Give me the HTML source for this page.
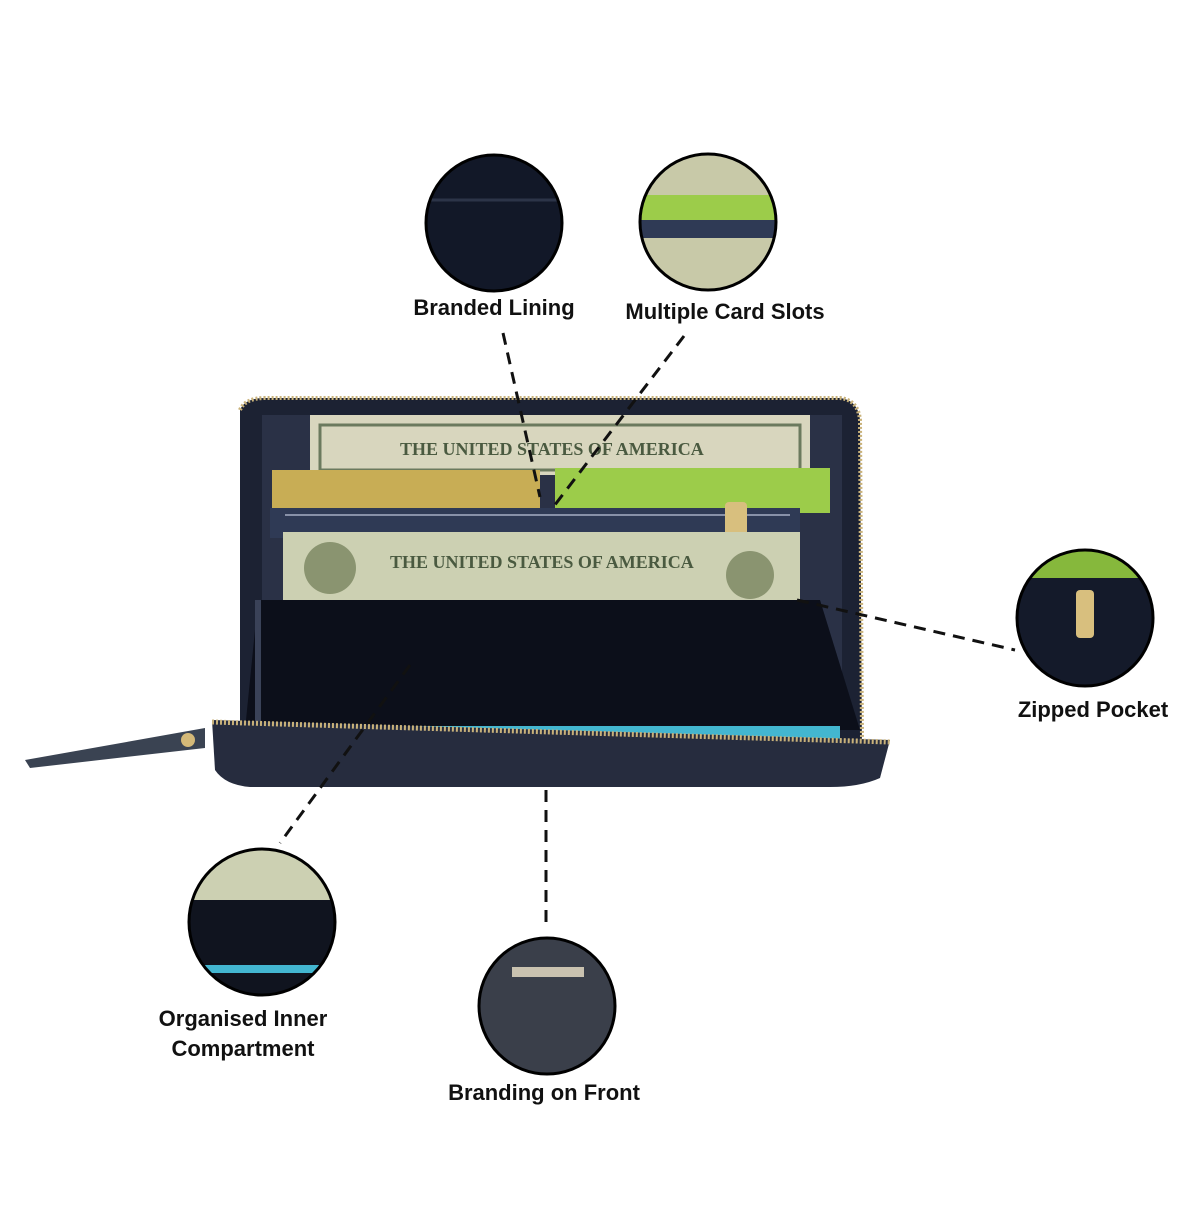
<!DOCTYPE html>
<html><head><meta charset="utf-8"><style>
body{margin:0;background:#fff;width:1200px;height:1200px;overflow:hidden}
svg text{font-family:"Liberation Sans",sans-serif;font-weight:bold;fill:#111;font-size:22px}
</style></head><body>
<svg width="1200" height="1200" viewBox="0 0 1200 1200">
<defs>
<clipPath id="c1"><circle cx="494" cy="223" r="68"/></clipPath>
<clipPath id="c2"><circle cx="708" cy="222" r="68"/></clipPath>
<clipPath id="c3"><circle cx="1085" cy="618" r="68"/></clipPath>
<clipPath id="c4"><circle cx="262" cy="922" r="73"/></clipPath>
<clipPath id="c5"><circle cx="547" cy="1006" r="68"/></clipPath>
</defs>
<path d="M240 410 Q245 398 265 398 L840 398 Q858 400 860 420 L862 760 L240 760 Z" fill="#1c2233"/>
<path d="M240 410 Q245 398 265 398 L840 398 Q858 400 860 420 L862 740" fill="none" stroke="#c9b27a" stroke-width="4" stroke-dasharray="2 2"/>
<rect x="262" y="415" width="580" height="310" fill="#2a3146"/>
<rect x="310" y="415" width="500" height="60" fill="#d8d6be"/>
<rect x="320" y="425" width="480" height="45" fill="none" stroke="#6b7a5e" stroke-width="3"/>
<text x="400" y="455" style="font-size:18px;fill:#4a5a40;font-family:'Liberation Serif',serif">THE UNITED STATES OF AMERICA</text>
<rect x="272" y="470" width="268" height="45" fill="#c8ad55"/>
<rect x="555" y="468" width="275" height="45" fill="#9ccc4a"/>
<rect x="270" y="508" width="530" height="30" fill="#2f3a55"/>
<line x1="285" y1="515" x2="790" y2="515" stroke="#8891a8" stroke-width="2"/>
<rect x="725" y="502" width="22" height="46" rx="4" fill="#d8bf7e"/>
<rect x="283" y="532" width="517" height="72" fill="#ccd0b2"/>
<text x="390" y="568" style="font-size:18px;fill:#4a5a40;font-family:'Liberation Serif',serif">THE UNITED STATES OF AMERICA</text>
<circle cx="330" cy="568" r="26" fill="#8a9470"/>
<circle cx="750" cy="575" r="24" fill="#8a9470"/>
<path d="M258 600 L820 600 L860 730 L245 730 Z" fill="#0c0f1a"/>
<path d="M258 600 L258 730" stroke="#3a4258" stroke-width="6"/>
<rect x="240" y="726" width="600" height="16" fill="#43b6d0"/>
<path d="M212 720 L890 740 L880 778 Q860 787 830 787 L250 787 Q225 785 215 770 Z" fill="#262c3e"/>
<path d="M212 722 L890 742" stroke="#c9b27a" stroke-width="5" stroke-dasharray="2 2"/>
<path d="M25 760 L30 768 L205 748 L205 728 Z" fill="#3a4352"/>
<circle cx="188" cy="740" r="7" fill="#d4b978"/>
<g stroke="#111" stroke-width="3" stroke-dasharray="12 8" fill="none">
<line x1="503" y1="333" x2="540" y2="497"/>
<line x1="684" y1="336" x2="551" y2="510"/>
<line x1="797" y1="600" x2="1015" y2="650"/>
<line x1="410" y1="665" x2="280" y2="843"/>
<line x1="546" y1="790" x2="546" y2="925"/>
</g>
<g clip-path="url(#c1)"><circle cx="494" cy="223" r="68" fill="#121828"/>
<line x1="420" y1="200" x2="570" y2="200" stroke="#2c3448" stroke-width="3"/></g>
<circle cx="494" cy="223" r="68" fill="none" stroke="#000" stroke-width="3"/>
<g clip-path="url(#c2)"><circle cx="708" cy="222" r="68" fill="#c8c9a8"/>
<rect x="638" y="195" width="140" height="25" fill="#9ccc4a"/>
<rect x="638" y="220" width="140" height="18" fill="#2f3a55"/></g>
<circle cx="708" cy="222" r="68" fill="none" stroke="#000" stroke-width="3"/>
<g clip-path="url(#c3)"><circle cx="1085" cy="618" r="68" fill="#141a2a"/>
<rect x="1015" y="545" width="140" height="33" fill="#86b83c"/>
<rect x="1076" y="590" width="18" height="48" rx="4" fill="#d8bf7e"/></g>
<circle cx="1085" cy="618" r="68" fill="none" stroke="#000" stroke-width="3"/>
<g clip-path="url(#c4)"><circle cx="262" cy="922" r="73" fill="#10141f"/>
<rect x="185" y="850" width="155" height="50" fill="#ccd0b2"/>
<rect x="185" y="965" width="155" height="8" fill="#43b6d0"/></g>
<circle cx="262" cy="922" r="73" fill="none" stroke="#000" stroke-width="3"/>
<g clip-path="url(#c5)"><circle cx="547" cy="1006" r="68" fill="#3a3f4a"/>
<rect x="512" y="967" width="72" height="10" fill="#c9c2b0"/></g>
<circle cx="547" cy="1006" r="68" fill="none" stroke="#000" stroke-width="3"/>
<text x="494" y="315" text-anchor="middle">Branded Lining</text>
<text x="725" y="319" text-anchor="middle">Multiple Card Slots</text>
<text x="1093" y="717" text-anchor="middle">Zipped Pocket</text>
<text x="243" y="1026" text-anchor="middle">Organised Inner</text>
<text x="243" y="1056" text-anchor="middle">Compartment</text>
<text x="544" y="1100" text-anchor="middle">Branding on Front</text>
</svg>
</body></html>
